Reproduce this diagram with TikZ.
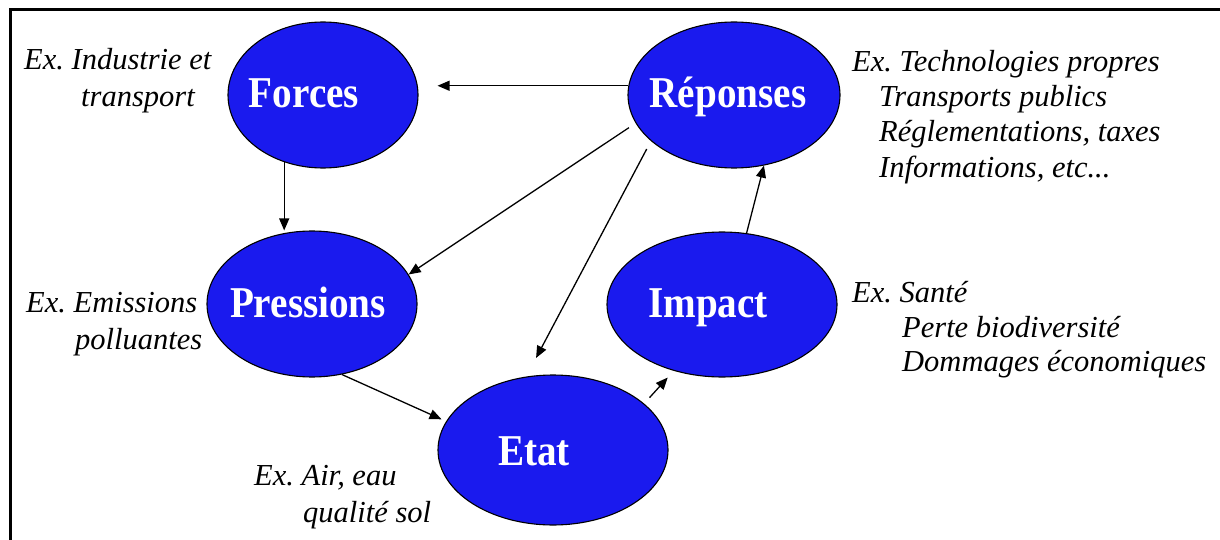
\documentclass[tikz,border=0pt]{standalone}
\usepackage{fontspec}
\setmainfont{Liberation Serif}
\usetikzlibrary{arrows.meta,shapes.geometric}
\definecolor{blobblue}{RGB}{26,26,238}
\frenchspacing
\begin{document}
\begin{tikzpicture}[x=1pt,y=-1pt,
  blob/.style={ellipse, draw=black, line width=1.1pt, fill=blobblue, inner sep=0pt},
  lbl/.style={text=white, font=\fontsize{44}{44}\selectfont\bfseries, anchor=base, xscale=0.89, inner sep=0pt},
  ex/.style={font=\fontsize{30.5}{35}\selectfont\itshape, anchor=base west, inner sep=0pt},
  arr/.style={line width=1.3pt, -{Triangle[length=12pt,width=10pt]}},
]
\useasboundingbox (0,0) rectangle (1220,540);
\draw[line width=3pt] (10,545) -- (10,10) -- (1225,10);

% ellipses
\node[blob, minimum width=190pt, minimum height=146pt] (forces) at (323,95) {};
\node[blob, minimum width=212pt, minimum height=146pt] (reponses) at (734,95) {};
\node[blob, minimum width=210pt, minimum height=146pt] (pressions) at (312,304) {};
\node[blob, minimum width=230pt, minimum height=150pt] (etat) at (553,450) {};
\node[blob, minimum width=230pt, minimum height=145pt] (impact) at (722,304.5) {};

% labels
\node[lbl] (forcesl) at (304,108) {Forces};
\node[lbl] (reponsesl) at (728,108) {Réponses};
\node[lbl] (pressionsl) at (308,317) {Pressions};
\node[lbl] (etatl) at (534,465) {Etat};
\node[lbl] (impactl) at (708,317) {Impact};

% example texts
\node[ex] (t1a) at (24,70) {Ex. Industrie et};
\node[ex] (t1b) at (81,107) {transport};
\node[ex] (t2a) at (26,312) {Ex. Emissions};
\node[ex] (t2b) at (75,349) {polluantes};
\node[ex] (t3a) at (254,485) {Ex. Air, eau};
\node[ex] (t3b) at (303,522) {qualité sol};
\node[ex] (t4a) at (852,72) {Ex. Technologies propres};
\node[ex] (t4b) at (879,107) {Transports publics};
\node[ex] (t4c) at (879,142) {Réglementations, taxes};
\node[ex] (t4d) at (879,178) {Informations, etc...};
\node[ex] (t5a) at (852,302) {Ex. Santé};
\node[ex] (t5b) at (902,337) {Perte biodiversité};
\node[ex] (t5c) at (902,371) {Dommages économiques};

% connectors
\draw[arr, shorten >=19pt] (reponses.175) -- (reponses.175 -| forces.east);
\draw[arr, shorten <=8pt] (reponses.196) -- (pressions.17);
\draw[arr, shorten <=9pt, shorten >=21pt] (reponses.209.5) -- (etat.110.7);
\draw[arr] (forces.240.4) -- (forces.240.4 |- pressions.north);
\draw[arr, shorten >=5pt] (pressions.293.6) -- (etat.165.7);
\draw[arr, shorten <=8pt, shorten >=9pt] (etat.27.8) -- (impact.234.9);
\draw[arr] (impact.71.2) -- (reponses.293);
\end{tikzpicture}
\end{document}
